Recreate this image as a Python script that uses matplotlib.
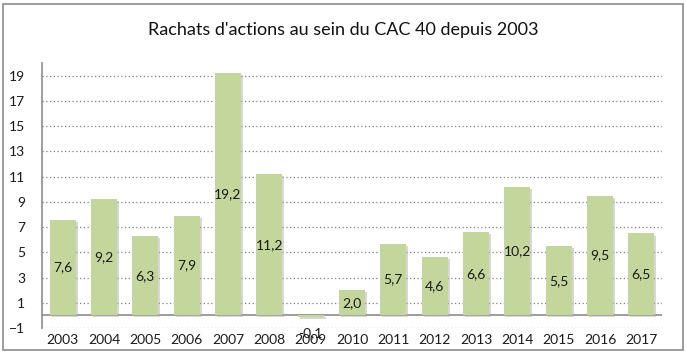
import matplotlib.pyplot as plt
import matplotlib.patheffects as pe

years = ['2003', '2004', '2005', '2006', '2007', '2008', '2009', '2010',
         '2011', '2012', '2013', '2014', '2015', '2016', '2017']
values = [7.6, 9.2, 6.3, 7.9, 19.2, 11.2, -0.1, 2.0,
          5.7, 4.6, 6.6, 10.2, 5.5, 9.5, 6.5]
yticks = [-1, 1, 3, 5, 7, 9, 11, 13, 15, 17, 19]

plt.rcParams['font.family'] = ['Lato', 'DejaVu Sans']

fig = plt.figure(figsize=(6.86, 3.54), dpi=100)
# outer frame of the chart area
fig.patches.append(plt.Rectangle((0.005, 0.01), 0.99, 0.98, transform=fig.transFigure,
                                 fill=False, edgecolor='#8c8c8c', linewidth=1.2))
ax = fig.add_axes([0.0612, 0.0734, 0.9038, 0.748])

x = range(len(years))
bars = ax.bar(x, values, width=0.63, color='#C3D69B', zorder=3)
for b in bars:
    b.set_path_effects([pe.SimplePatchShadow(offset=(1.5, -1.5), shadow_rgbFace='#b0b0b0', alpha=0.5),
                        pe.Normal()])

for i, v in enumerate(values):
    if v > 0:
        ypos = v / 2
    else:
        ypos = -1.4
    ax.text(i, ypos, f'{v:.1f}'.replace('.', ','), ha='center', va='center',
            fontsize=10, color='#1a1a1a', zorder=4)

ax.set_ylim(-1, 20)
ax.set_xlim(-0.5, len(years) - 0.5)
ax.set_yticks(yticks)
ax.set_xticks(list(x))
ax.set_xticklabels(years)
ax.tick_params(length=0, labelsize=10, colors='#1a1a1a')
ax.tick_params(axis='y', pad=12)
ax.tick_params(axis='x', pad=4)

ax.yaxis.grid(True, linestyle=(0, (1, 2)), color='#7f7f7f', linewidth=0.9, zorder=0)
ax.axhline(0, color='#8c8c8c', linewidth=1.2, zorder=2)
for s in ['top', 'right', 'bottom']:
    ax.spines[s].set_visible(False)
ax.spines['left'].set_color('#8c8c8c')
ax.spines['left'].set_linewidth(1.2)

fig.text(0.5, 0.915, "Rachats d'actions au sein du CAC 40 depuis 2003",
         ha='center', va='center', fontsize=13, color='#111111')

fig.savefig('out.png', dpi=100)
